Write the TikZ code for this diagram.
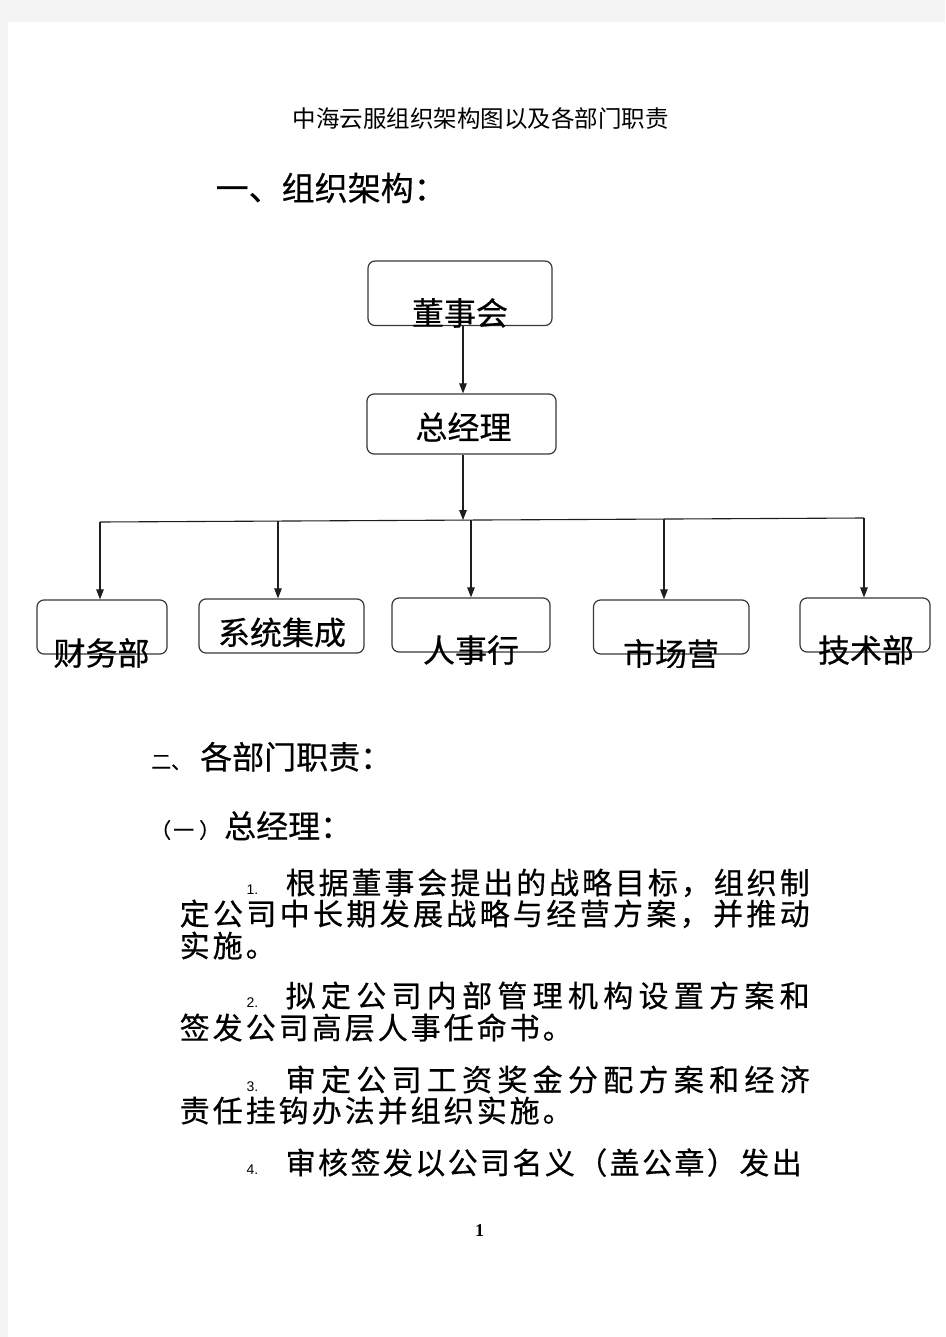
\documentclass[tikz,border=0pt]{standalone}
\usepackage{fontspec}
\newfontfamily\cjk{Noto Sans CJK SC}
\newfontfamily\cjkb[FakeBold=0.5]{Noto Sans CJK SC}
\newfontfamily\arialf{Liberation Sans}
\newfontfamily\timesf{Liberation Serif}
\usetikzlibrary{arrows.meta}
\definecolor{pagegrey}{HTML}{F4F4F4}
\definecolor{boxline}{HTML}{383838}
\definecolor{linecol}{HTML}{1E1E1E}
\def\spreadEnd{}
\def\spreadA#1{#1\spreadB}
\def\spreadB#1{\ifx#1\spreadEnd\else\hfil#1\expandafter\spreadB\fi}
\newcommand\spreadline[2]{\hbox to #1{\spreadA#2\spreadEnd}}
\tikzset{
  orgbox/.style={draw=boxline, line width=1.2pt, rounded corners=7pt, inner sep=0pt},
  boxtext/.style={font=\cjkb\fontsize{32}{32}\selectfont, inner sep=0pt},
  arr/.style={draw=linecol, line width=1.1pt, -{Triangle[length=10pt,width=7.5pt]}},
  plainline/.style={draw=linecol, line width=1.1pt},
  bodytext/.style={font=\cjkb\fontsize{30}{30}\selectfont, inner sep=0pt, anchor=base west},
  headtext/.style={font=\cjkb\fontsize{32}{32}\selectfont, inner sep=0pt, anchor=base west},
  numtext/.style={font=\arialf\fontsize{14}{14}\selectfont, inner sep=0pt, anchor=base west}
}
\begin{document}
\begin{tikzpicture}[x=1pt,y=-1pt]
\useasboundingbox (0,0) rectangle (945,1337);
\fill[pagegrey] (0,0) rectangle (945,1337);
\fill[white] (7.5,22) rectangle (945,1337);

% headings
\node[font=\cjk\fontsize{23.5}{23.5}\selectfont, inner sep=0pt, anchor=base] (title) at (480.5,128) {中海云服组织架构图以及各部门职责};
\node[font=\cjkb\fontsize{33}{33}\selectfont, inner sep=0pt, anchor=base west] (h1) at (215.5,200.5) {一、组织架构：};

% boxes
\node[orgbox, minimum width=184pt, minimum height=64.5pt] (b0) at (460,293.3) {};
\node[orgbox, minimum width=189pt, minimum height=60pt] (b1) at (461.5,424) {};
\node[orgbox, minimum width=130pt, minimum height=54pt] (d1) at (102,627) {};
\node[orgbox, minimum width=165pt, minimum height=54pt] (d2) at (281.5,626) {};
\node[orgbox, minimum width=158pt, minimum height=54pt] (d3) at (471,625) {};
\node[orgbox, minimum width=155.5pt, minimum height=54pt] (d4) at (671.25,627) {};
\node[orgbox, minimum width=130pt, minimum height=54pt] (d5) at (865,625) {};

% box texts
\node[boxtext] (t0) at (460,313) {董事会};
\node[boxtext] (t1) at (463.5,427) {总经理};
\node[boxtext] (t3) at (282,632.5) {系统集成};
\begin{scope}
\clip (0,0) rectangle (945,667);
\node[boxtext] (t2) at (101.5,653) {财务部};
\node[boxtext] (t4) at (471,650) {人事行};
\node[boxtext] (t5) at (671,654) {市场营};
\node[boxtext] (t6) at (866,650) {技术部};
\end{scope}

% connectors
\coordinate (j) at (463,520.1);
\coordinate (barL) at (100,522);
\coordinate (barR) at (864,518);
\coordinate (p2) at (278,521.1);
\coordinate (p3) at (471,520.1);
\coordinate (p4) at (664,519.1);
\draw[arr] (b0.south -| j) -- (b1.north -| j);
\draw[plainline] (barL) -- (barR);
\draw[arr] (b1.south -| j) -- (j);
\draw[arr] (barL) -- (d1.north -| barL);
\draw[arr] (p2) -- (d2.north -| p2);
\draw[arr] (p3) -- (d3.north -| p3);
\draw[arr] (p4) -- (d4.north -| p4);
\draw[arr] (barR) -- (d5.north -| barR);

% section 2
\node[headtext] (h2) at (151,769) {{\fontsize{20}{20}\selectfont 二、}\hspace{9pt}各部门职责：};
\node[headtext] (h3) at (150,838) {{\fontsize{21}{21}\selectfont （\hspace{2pt}一\hspace{5pt}）}\hspace{4pt}总经理：};

\node[numtext] (n1) at (246.5,894) {1.};
\node[bodytext] (l1a) at (285.5,894) {\spreadline{524pt}{根据董事会提出的战略目标，组织制}};
\node[bodytext] (l1b) at (179.5,925) {\spreadline{630pt}{定公司中长期发展战略与经营方案，并推动}};
\node[bodytext] (l1c) at (179.5,957) {\spreadline{96pt}{实施。}};

\node[numtext] (n2) at (246.5,1007) {2.};
\node[bodytext] (l2a) at (285.5,1007) {\spreadline{524pt}{拟定公司内部管理机构设置方案和}};
\node[bodytext] (l2b) at (179.5,1039) {\spreadline{393pt}{签发公司高层人事任命书。}};

\node[numtext] (n3) at (246.5,1091) {3.};
\node[bodytext] (l3a) at (285.5,1091) {\spreadline{524pt}{审定公司工资奖金分配方案和经济}};
\node[bodytext] (l3b) at (179.5,1122) {\spreadline{393pt}{责任挂钩办法并组织实施。}};

\node[numtext] (n4) at (246.5,1174) {4.};
\node[bodytext] (l4) at (285.5,1174) {\spreadline{516pt}{审核签发以公司名义（盖公章）发出}};

\node[font=\timesf\bfseries\fontsize{18}{18}\selectfont, inner sep=0pt, anchor=base] (pg) at (479.5,1236) {1};
\end{tikzpicture}
\end{document}
